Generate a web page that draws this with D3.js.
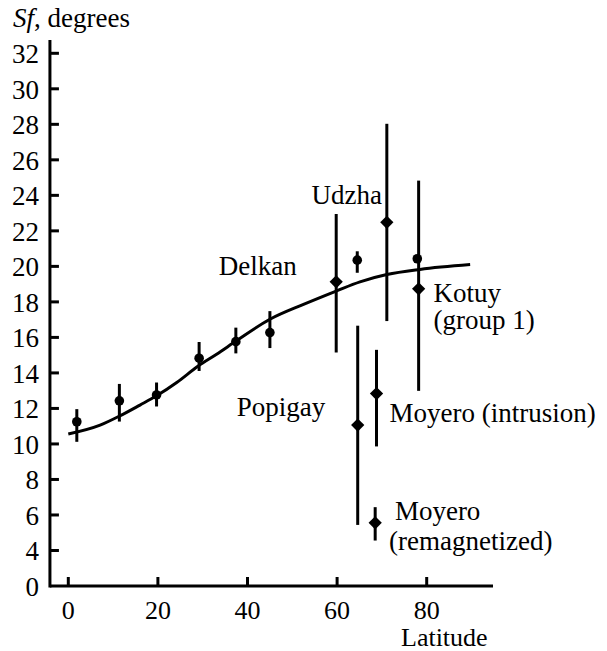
<!DOCTYPE html>
<html>
<head>
    <script src="https://d3js.org/d3.v7.min.js"></script>
    <style>
        body {
            margin: 0;
            background: #fff;
        }

        svg text {
            font-family: "Liberation Serif", "Times New Roman", serif;
            font-size: 27px;
            fill: #000;
        }

        svg text.xlab {
            font-size: 26px;
        }

        .axis line {
            stroke: #000;
            stroke-width: 3px;
        }
    </style>
</head>

<body>
    <script>
        // Sf (degrees) vs latitude: reference curve, averaged values (dots) and sites (diamonds)
        const curveLat = [0, 7.1, 11.5, 16, 19.7, 24.2, 29, 33.1, 37.6, 45, 52.5, 59.8, 65.1, 71.1, 78.5, 89.7];
        const curveSf = [10.56, 11.06, 11.58, 12.19, 12.71, 13.46, 14.39, 15.05, 15.82, 17.02, 17.86, 18.61, 19.13, 19.54, 19.83, 20.1];

        const dotLat = [1.9, 11.4, 19.7, 29.2, 37.4, 45.0, 64.5, 77.9];
        const dotSf = [11.25, 12.43, 12.76, 14.83, 15.76, 16.27, 20.35, 20.43];
        const dotLow = [10.12, 11.26, 12.11, 14.11, 15.1, 15.4, 19.64, 20.43];
        const dotHigh = [11.96, 13.38, 13.46, 15.74, 16.55, 17.48, 20.85, 20.43];

        const siteNames = ['Delkan', 'Popigay', 'Udzha', 'Moyero (intrusion)', 'Kotuy', 'Moyero (remagnetized)'];
        const siteLat = [59.8, 64.6, 71.1, 68.8, 78.2, 68.5];
        const siteSf = [19.13, 11.06, 22.48, 12.84, 18.74, 5.56];
        const siteLow = [15.15, 5.44, 16.92, 9.86, 12.99, 4.56];
        const siteHigh = [22.95, 16.66, 28.03, 15.3, 24.83, 6.44];

        // text annotations, anchored in data units (latitude, Sf)
        const noteText = ['Udzha', 'Delkan', 'Kotuy', '(group 1)', 'Popigay', 'Moyero (intrusion)', 'Moyero', '(remagnetized)'];
        const noteLat = [54.3, 33.6, 81.5, 81.5, 37.6, 71.7, 72.9, 71.6];
        const noteSf = [23.53, 19.54, 17.99, 16.45, 11.58, 11.25, 5.69, 4.0];

        const xTicks = [0, 20, 40, 60, 80];
        // the bottom of the axis is labelled 0 although the scale there reads 2
        const yTicks = [2, 4, 6, 8, 10, 12, 14, 16, 18, 20, 22, 24, 26, 28, 30, 32];
        const yTickLabels = ['0', '4', '6', '8', '10', '12', '14', '16', '18', '20', '22', '24', '26', '28', '30', '32'];

        const width = 607,
            height = 651;

        const x = d3.scaleLinear()
            .domain([0, 80])
            .range([68.3, 426.7]);

        const y = d3.scaleLinear()
            .domain([2, 32])
            .range([586, 53.3]);

        const svg = d3.select('body').append('svg')
            .attr('width', width)
            .attr('height', height);

        // x axis, ticks pointing inward
        const xAxis = svg.append('g')
            .attr('class', 'axis')
            .attr('transform', `translate(0,${y(2)})`);

        xAxis.append('line')
            .attr('x1', x(-4.1)).attr('x2', x(94.8));

        xAxis.selectAll('line.tick')
            .data(xTicks)
            .join('line')
            .attr('class', 'tick')
            .attr('x1', d => x(d)).attr('x2', d => x(d))
            .attr('y1', 0).attr('y2', -9);

        xAxis.selectAll('text')
            .data(xTicks)
            .join('text')
            .attr('class', 'xlab')
            .attr('x', d => x(d))
            .attr('y', 33)
            .attr('text-anchor', 'middle')
            .text(d => d);

        // y axis, ticks pointing inward
        const yAxis = svg.append('g')
            .attr('class', 'axis')
            .attr('transform', `translate(${x(-4.1)},0)`);

        yAxis.append('line')
            .attr('y1', y(32.75)).attr('y2', y(2) + 1.5);

        yAxis.selectAll('line.tick')
            .data(yTicks.slice(1))
            .join('line')
            .attr('class', 'tick')
            .attr('x1', 0).attr('x2', 9)
            .attr('y1', d => y(d)).attr('y2', d => y(d));

        yAxis.selectAll('text')
            .data(yTicks)
            .join('text')
            .attr('x', -11)
            .attr('y', d => y(d))
            .attr('dy', '0.36em')
            .attr('text-anchor', 'end')
            .text((d, i) => yTickLabels[i]);

        svg.append('text')
            .attr('x', 13)
            .attr('y', 27)
            .html('<tspan font-style="italic">Sf</tspan>, degrees');

        svg.append('text')
            .attr('class', 'xlab')
            .attr('x', 401)
            .attr('y', 646)
            .text('Latitude');

        // reference curve
        const line = d3.line()
            .x(d => x(d[0]))
            .y(d => y(d[1]))
            .curve(d3.curveMonotoneX);

        svg.append('path')
            .datum(curveLat.map((d, i) => [d, curveSf[i]]))
            .attr('d', line)
            .attr('fill', 'none')
            .attr('stroke', '#000')
            .attr('stroke-width', 3);

        // error bars
        const bars = dotLat.map((d, i) => [d, dotLow[i], dotHigh[i]])
            .concat(siteLat.map((d, i) => [d, siteLow[i], siteHigh[i]]));

        svg.selectAll('line.err')
            .data(bars)
            .join('line')
            .attr('class', 'err')
            .attr('x1', d => x(d[0])).attr('x2', d => x(d[0]))
            .attr('y1', d => y(d[1])).attr('y2', d => y(d[2]))
            .attr('stroke', '#000')
            .attr('stroke-width', 3);

        svg.selectAll('circle.dot')
            .data(dotLat)
            .join('circle')
            .attr('class', 'dot')
            .attr('cx', d => x(d))
            .attr('cy', (d, i) => y(dotSf[i]))
            .attr('r', 4.8)
            .attr('fill', '#000');

        const diamond = d3.symbol().type(d3.symbolDiamond2).size(112);

        svg.selectAll('path.site')
            .data(siteLat)
            .join('path')
            .attr('class', 'site')
            .attr('d', diamond)
            .attr('transform', (d, i) => `translate(${x(d)},${y(siteSf[i])})`)
            .attr('fill', '#000');

        svg.selectAll('text.note')
            .data(noteText)
            .join('text')
            .attr('class', 'note')
            .attr('x', (d, i) => x(noteLat[i]))
            .attr('y', (d, i) => y(noteSf[i]))
            .text(d => d);
    </script>
</body>

</html>
